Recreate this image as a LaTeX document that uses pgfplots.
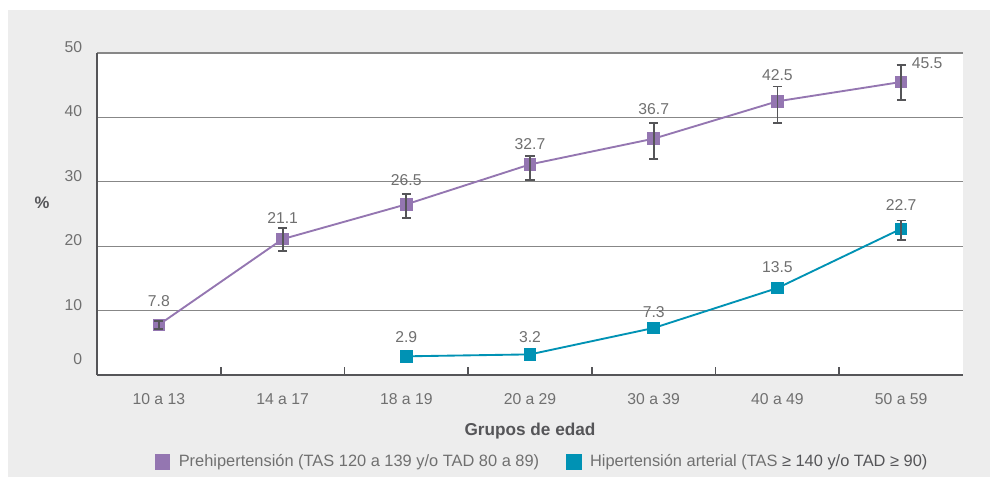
\documentclass[border=0pt]{standalone}
\usepackage{pgfplots}
\pgfplotsset{compat=1.18}
\usepackage{pgfplotstable}
\usepackage{fontspec}
\setmainfont{Liberation Sans}
\definecolor{purp}{RGB}{148,118,177}
\definecolor{teal2}{RGB}{0,146,180}
\definecolor{txtgray}{RGB}{112,112,112}
\definecolor{dark}{RGB}{85,85,88}
\definecolor{gridgray}{RGB}{135,135,135}
\definecolor{bggray}{RGB}{237,237,237}

\pgfplotstableread{
x y ep em
0 7.8 0.6 0.6
1 21.1 1.7 1.9
2 26.5 1.6 2.1
3 32.7 1.3 2.4
4 36.7 2.4 3.1
5 42.5 2.3 3.4
6 45.5 2.7 2.8
}\prehip

\pgfplotstableread{
x y
2 2.9
3 3.2
4 7.3
5 13.5
6 22.7
}\hip

\pgfplotstableread{
x y ep em
6 22.7 1.3 1.7
}\hiperr

\pgfplotstableread{
x y lab
0 11.5 7.8
1 24.4 21.1
2 30.3 26.5
3 35.9 32.7
4 41.3 36.7
5 46.6 42.5
6.21 48.4 45.5
}\prehiplab

\pgfplotstableread{
x y lab
2 5.9 2.9
3 5.9 3.2
4 9.8 7.3
5 16.8 13.5
6 26.4 22.7
}\hiplab

\begin{document}
\begin{tikzpicture}
\path[use as bounding box] (0pt,0pt) rectangle (747.75pt,357.75pt);
\fill[bggray] (6pt,0pt) rectangle (742.5pt,350.25pt);
\begin{axis}[
  at={(72.75pt,76.5pt)}, anchor=south west,
  scale only axis, width=649.5pt, height=241.5pt,
  xmin=-0.5, xmax=6.5, ymin=0, ymax=50,
  axis background/.style={fill=white},
  axis x line*=bottom, axis y line*=left,
  axis line style={draw=dark, line width=1.6pt},
  xtick={0,...,6},
  xticklabels={10 a 13,14 a 17,18 a 19,20 a 29,30 a 39,40 a 49,50 a 59},
  minor xtick={0.5,1.5,...,5.5},
  tick align=inside,
  major tick length=0pt, minor tick length=6pt,
  every minor tick/.append style={line width=1.3pt, draw=dark},
  ytick={10,20,30,40,50},
  yticklabels={10,20,30,40,50},
  extra y ticks={1.6}, extra y tick labels={0},
  extra y tick style={grid=none},
  ymajorgrids, grid style={draw=gridgray, line width=0.8pt},
  tick label style={font=\fontsize{11.8}{14}\selectfont, text=txtgray},
  xticklabel style={anchor=center, yshift=-18pt, inner sep=0pt},
  yticklabel style={anchor=east, inner sep=0pt, xshift=-11pt, yshift=4.5pt},
  xlabel={Grupos de edad},
  xlabel style={at={(axis description cs:0.5,-0.173)}, anchor=center, font=\fontsize{12.9}{15}\selectfont\bfseries, text=dark},
  legend columns=2,
  legend style={at={(rel axis cs:0.0662,-0.270)}, anchor=west, draw=none, fill=none, inner sep=0pt,
    font=\fontsize{12.3}{14}\selectfont, text=txtgray,
    /tikz/every even column/.append style={column sep=18pt},
    nodes={inner sep=2pt}},
  legend cell align=left,
  clip=false,
  clip marker paths=true,
]
\addplot[color=purp, line width=1.4pt, mark=square*, mark size=4.3pt,
  mark options={draw=purp, fill=purp, line width=0pt},
  legend image code/.code={\fill[purp] (0pt,-5.25pt) rectangle (10.5pt,5.25pt); \path (14.75pt,0pt);}]
  table[x=x, y=y] {\prehip};
\addlegendentry{Prehipertensión (TAS 120 a 139 y/o TAD 80 a 89)}
\addplot[color=teal2, line width=1.4pt, mark=square*, mark size=4.3pt,
  mark options={draw=teal2, fill=teal2, line width=0pt},
  legend image code/.code={\fill[teal2] (0pt,-5.25pt) rectangle (10.5pt,5.25pt); \path (14.75pt,0pt);}]
  table[x=x, y=y] {\hip};
\addlegendentry{Hipertensión arterial (TAS \textcolor{dark}{≥ 140 y/o TAD ≥ 90)}}
\addplot[forget plot, draw=none, mark=none,
  error bars/.cd, y dir=both, y explicit,
  error bar style={line width=1.4pt, draw=dark},
  error mark options={rotate=90, mark size=3.4pt, line width=1.4pt, draw=dark}]
  table[x=x, y=y, y error plus=ep, y error minus=em] {\prehip};
\addplot[forget plot, draw=none, mark=none,
  error bars/.cd, y dir=both, y explicit,
  error bar style={line width=1.4pt, draw=dark},
  error mark options={rotate=90, mark size=3.4pt, line width=1.4pt, draw=dark}]
  table[x=x, y=y, y error plus=ep, y error minus=em] {\hiperr};
\addplot[forget plot, draw=none, mark=none, nodes near coords, point meta=explicit symbolic,
  nodes near coords style={anchor=center, inner sep=0pt, font=\fontsize{11.8}{14}\selectfont, text=txtgray}]
  table[x=x, y=y, meta=lab] {\prehiplab};
\addplot[forget plot, draw=none, mark=none, nodes near coords, point meta=explicit symbolic,
  nodes near coords style={anchor=center, inner sep=0pt, font=\fontsize{11.8}{14}\selectfont, text=txtgray}]
  table[x=x, y=y, meta=lab] {\hiplab};
\node[font=\fontsize{12.5}{14}\selectfont\bfseries, text=dark] at (rel axis cs:-0.0635,0.534) {\%};
\end{axis}
\end{tikzpicture}
\end{document}
